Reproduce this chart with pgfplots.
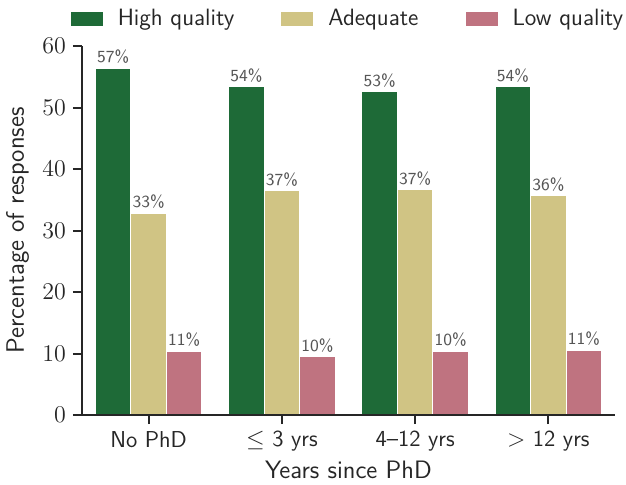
\documentclass[border=0pt]{standalone}
\usepackage{pgfplots}
\pgfplotsset{compat=1.18}
\definecolor{cHigh}{HTML}{1E6A37}
\definecolor{cAdeq}{HTML}{D0C484}
\definecolor{cLow}{HTML}{BF7380}
\definecolor{cText}{HTML}{262626}
\definecolor{cLab}{HTML}{555555}
\begin{document}
\begin{tikzpicture}
\path[use as bounding box] (-41pt,-34.5pt) rectangle (272pt,207.5pt);
\begin{axis}[
  scale only axis,
  width=266.5pt, height=184.5pt,
  ybar=0pt, bar width=0.2667,
  xmin=-0.5, xmax=3.5, ymin=0, ymax=60,
  xtick={0,1,2,3},
  xticklabels={No PhD, $\leq$ 3 yrs, 4--12 yrs, $>$ 12 yrs},
  ytick={0,10,20,30,40,50,60},
  axis on top,
  axis lines*=left,
  axis line style={line width=1pt, color=cText},
  tick style={line width=1pt, color=cText},
  tick align=outside,
  major tick length=4.5pt,
  xticklabel style={font=\sffamily\fontsize{11.5}{13}\selectfont, text=cText},
  yticklabel style={font=\fontsize{11.5}{13}\selectfont, text=cText},
  xlabel={Years since PhD},
  ylabel={Percentage of responses},
  label style={font=\sffamily\fontsize{12.6}{14}\selectfont, text=cText},
  xlabel style={at={(axis description cs:0.5,0)}, anchor=base, yshift=-31.5pt},
  ylabel style={at={(axis description cs:-0.121,0.5)}, anchor=center},
  nodes near coords,
  point meta=explicit symbolic,
  every node near coord/.append style={font=\sffamily\fontsize{8.5}{10}\selectfont, text=cLab, inner sep=2pt},
  legend style={at={(axis description cs:0.5,1)}, anchor=center, yshift=13.5pt,
    draw=none, fill=none, legend columns=3,
    font=\sffamily\fontsize{11.8}{13}\selectfont, text=cText,
    /tikz/every odd column/.append style={column sep=5pt},
    /tikz/every even column/.append style={column sep=21pt},
    legend cell align=left},
  legend image code/.code={\fill[#1] (0pt,-3.75pt) rectangle (16.5pt,3.75pt);},
]
\addplot[fill=cHigh, draw=white, line width=0.5pt] coordinates {(0,56.4)[57\%] (1,53.4)[54\%] (2,52.6)[53\%] (3,53.4)[54\%]};
\addplot[fill=cAdeq, draw=white, line width=0.5pt] coordinates {(0,32.8)[33\%] (1,36.5)[37\%] (2,36.6)[37\%] (3,35.7)[36\%]};
\addplot[fill=cLow, draw=white, line width=0.5pt] coordinates {(0,10.4)[11\%] (1,9.5)[10\%] (2,10.4)[10\%] (3,10.5)[11\%]};
\legend{High quality, Adequate, Low quality}
\end{axis}
\end{tikzpicture}
\end{document}
